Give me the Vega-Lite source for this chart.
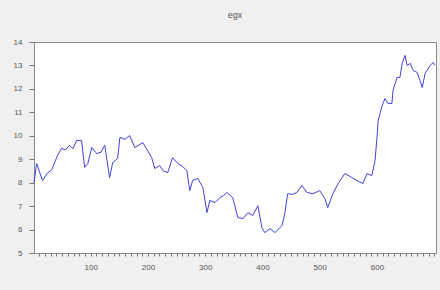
{
  "$schema": "https://vega.github.io/schema/vega-lite/v6.json",
  "autosize": "none",
  "width": 402,
  "height": 211,
  "padding": {"left": 34, "top": 42, "right": 4, "bottom": 37},
  "background": "#f0f0f0",
  "title": {"text": "egx", "fontSize": 9, "fontWeight": "normal", "color": "#555", "font": "Liberation Sans", "offset": 18, "anchor": "middle"},
  "config": {
    "view": {"fill": "white", "stroke": "#8a8a8a", "strokeWidth": 1},
    "axis": {"labelFont": "Liberation Sans", "labelFontSize": 8, "labelColor": "#555", "tickColor": "#777", "domain": false, "grid": false, "title": null}
  },
  "data": {"values": [
    {"t": 1, "v": 8.0}, {"t": 5.6, "v": 8.82}, {"t": 10, "v": 8.5}, {"t": 16, "v": 8.09}, {"t": 24, "v": 8.4}, {"t": 32, "v": 8.55},
    {"t": 42, "v": 9.16}, {"t": 49, "v": 9.46}, {"t": 56, "v": 9.4}, {"t": 63, "v": 9.59}, {"t": 69, "v": 9.45}, {"t": 75.5, "v": 9.8},
    {"t": 84, "v": 9.8}, {"t": 89.5, "v": 8.65}, {"t": 95, "v": 8.82}, {"t": 102, "v": 9.5}, {"t": 110.5, "v": 9.24},
    {"t": 118, "v": 9.3}, {"t": 124.5, "v": 9.59}, {"t": 133, "v": 8.22}, {"t": 138.5, "v": 8.86}, {"t": 147, "v": 9.03},
    {"t": 151, "v": 9.93}, {"t": 160, "v": 9.85}, {"t": 168, "v": 10.01}, {"t": 177, "v": 9.5}, {"t": 184, "v": 9.6}, {"t": 191, "v": 9.71},
    {"t": 200, "v": 9.35}, {"t": 206.5, "v": 9.07}, {"t": 212, "v": 8.6}, {"t": 220.5, "v": 8.73}, {"t": 227, "v": 8.5}, {"t": 234.5, "v": 8.43},
    {"t": 243, "v": 9.07}, {"t": 252, "v": 8.82}, {"t": 260, "v": 8.7}, {"t": 268, "v": 8.52}, {"t": 273, "v": 7.66}, {"t": 278, "v": 8.09},
    {"t": 287, "v": 8.18}, {"t": 296, "v": 7.79}, {"t": 303, "v": 6.72}, {"t": 308, "v": 7.24}, {"t": 317, "v": 7.15},
    {"t": 325.5, "v": 7.36}, {"t": 332, "v": 7.45}, {"t": 338, "v": 7.58}, {"t": 348, "v": 7.36}, {"t": 357, "v": 6.51},
    {"t": 366, "v": 6.47}, {"t": 374.5, "v": 6.72}, {"t": 383, "v": 6.6}, {"t": 392, "v": 7.02}, {"t": 399, "v": 6.08},
    {"t": 404, "v": 5.87}, {"t": 413, "v": 6.04}, {"t": 422, "v": 5.87}, {"t": 434, "v": 6.17}, {"t": 439, "v": 6.68},
    {"t": 444, "v": 7.53}, {"t": 452, "v": 7.5}, {"t": 460, "v": 7.58}, {"t": 469, "v": 7.88}, {"t": 477.6, "v": 7.58},
    {"t": 488, "v": 7.53}, {"t": 500, "v": 7.66}, {"t": 509, "v": 7.32}, {"t": 514, "v": 6.94}, {"t": 523, "v": 7.53},
    {"t": 532, "v": 7.96}, {"t": 544, "v": 8.39}, {"t": 556, "v": 8.22}, {"t": 565, "v": 8.09}, {"t": 575.5, "v": 7.96},
    {"t": 582.5, "v": 8.39}, {"t": 591, "v": 8.3}, {"t": 596.5, "v": 8.94}, {"t": 600, "v": 9.93}, {"t": 602, "v": 10.65},
    {"t": 609, "v": 11.29}, {"t": 614, "v": 11.59}, {"t": 619, "v": 11.38}, {"t": 626, "v": 11.38}, {"t": 628, "v": 11.94},
    {"t": 635, "v": 12.49}, {"t": 640, "v": 12.49}, {"t": 644, "v": 13.09}, {"t": 649, "v": 13.43}, {"t": 652.5, "v": 13.0},
    {"t": 658, "v": 13.09}, {"t": 663, "v": 12.79}, {"t": 670, "v": 12.7}, {"t": 675, "v": 12.36}, {"t": 679, "v": 12.06},
    {"t": 684, "v": 12.66}, {"t": 693, "v": 13.0}, {"t": 698, "v": 13.13}, {"t": 701, "v": 13.0}
  ]},
  "mark": {"type": "line", "color": "#4040dc", "strokeWidth": 1},
  "encoding": {
    "x": {"field": "t", "type": "quantitative", "scale": {"domain": [1, 703], "nice": false, "zero": false},
      "axis": {"values": [10,20,30,40,50,60,70,80,90,100,110,120,130,140,150,160,170,180,190,200,210,220,230,240,250,260,270,280,290,300,310,320,330,340,350,360,370,380,390,400,410,420,430,440,450,460,470,480,490,500,510,520,530,540,550,560,570,580,590,600,610,620,630,640,650,660,670,680,690,700],
        "labelExpr": "datum.value % 100 === 0 && datum.value < 700 ? datum.label : ''", "tickSize": 3, "labelPadding": 7, "labelFlush": false}},
    "y": {"field": "v", "type": "quantitative", "scale": {"domain": [5, 14], "nice": false, "zero": false},
      "axis": {"values": [5,6,7,8,9,10,11,12,13,14], "tickSize": 5, "labelPadding": 7}}
  }
}
